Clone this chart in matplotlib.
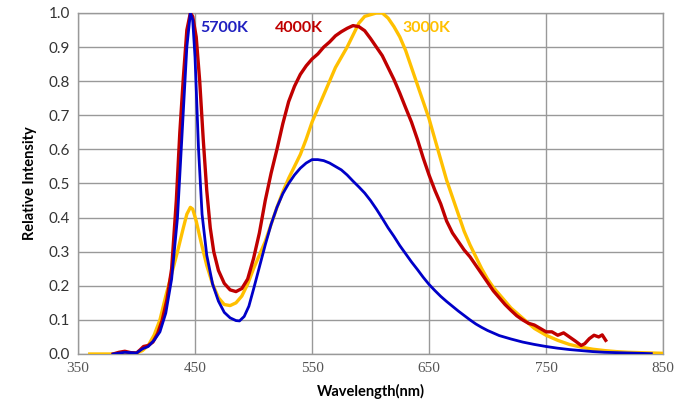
import matplotlib
matplotlib.use('Agg')
import matplotlib.pyplot as plt

# 5700K spectrum
wl_5700 = [380, 390, 400, 405, 410, 415, 420, 425, 430, 435, 439, 443, 446, 448, 450, 453,
           456, 460, 465, 470, 475, 480, 485, 488, 492, 496, 500, 505, 510, 515, 520, 525,
           530, 535, 540, 545, 550, 555, 560, 565, 570, 575, 580, 585, 590, 595, 600, 605,
           610, 615, 620, 625, 630, 635, 640, 645, 650, 655, 660, 665, 670, 675, 680, 685,
           690, 695, 700, 710, 720, 730, 740, 750, 760, 770, 780, 790, 800, 810, 820, 830, 840]
int_5700 = [0.0, 0.005, 0.003, 0.015, 0.022, 0.04, 0.065, 0.12, 0.22, 0.4, 0.65, 0.9, 1.0, 0.98,
            0.87, 0.6, 0.41, 0.29, 0.205, 0.155, 0.122, 0.106, 0.098, 0.097, 0.11, 0.14, 0.19,
            0.255, 0.32, 0.38, 0.43, 0.47, 0.5, 0.525, 0.545, 0.56, 0.57, 0.57, 0.567, 0.56,
            0.55, 0.54, 0.525, 0.507, 0.49, 0.472, 0.45, 0.425, 0.398, 0.37, 0.345, 0.318,
            0.294, 0.27, 0.248, 0.225, 0.204, 0.186, 0.169, 0.154, 0.14, 0.126, 0.113, 0.1,
            0.088, 0.078, 0.069, 0.054, 0.044, 0.035, 0.028, 0.022, 0.017, 0.013, 0.01, 0.007,
            0.005, 0.004, 0.003, 0.002, 0.001]

# 4000K spectrum
wl_4000 = [380, 385, 390, 395, 400, 403, 406, 410, 414, 418, 422, 426, 430, 434, 437, 440,
           443, 446, 448, 451, 454, 457, 460, 463, 466, 470, 475, 480, 485, 490, 495, 500,
           505, 510, 515, 520, 525, 530, 535, 540, 545, 550, 555, 560, 565, 570, 575, 580,
           585, 590, 595, 600, 605, 610, 615, 620, 625, 630, 635, 640, 645, 650, 655, 660,
           665, 670, 675, 680, 685, 690, 695, 700, 705, 710, 715, 720, 725, 730, 735, 740,
           745, 750, 755, 760, 765, 770, 775, 780, 783, 787, 791, 795, 798, 801]
int_4000 = [0.0, 0.005, 0.008, 0.004, 0.003, 0.012, 0.022, 0.025, 0.035, 0.06, 0.1, 0.16, 0.25,
            0.45, 0.65, 0.81, 0.95, 1.0, 0.99, 0.93, 0.8, 0.63, 0.48, 0.37, 0.3, 0.245, 0.207,
            0.188, 0.183, 0.192, 0.22, 0.28, 0.355, 0.45, 0.53, 0.6, 0.675, 0.74, 0.785, 0.82,
            0.845, 0.865, 0.88, 0.9, 0.915, 0.933, 0.945, 0.955, 0.963, 0.96, 0.948, 0.925, 0.9,
            0.875, 0.84, 0.805, 0.765, 0.722, 0.68, 0.63, 0.575, 0.525, 0.48, 0.44, 0.39,
            0.355, 0.33, 0.305, 0.285, 0.26, 0.235, 0.21, 0.185, 0.165, 0.145, 0.128, 0.112,
            0.1, 0.09, 0.085, 0.075, 0.065, 0.065, 0.055, 0.062, 0.05, 0.038, 0.025, 0.03,
            0.045, 0.055, 0.05, 0.056, 0.04]

# 3000K spectrum
wl_3000 = [360, 380, 400, 405, 410, 415, 420, 425, 430, 435, 440, 443, 446, 448, 451, 455,
           460, 465, 470, 475, 480, 485, 490, 495, 500, 505, 510, 515, 520, 525, 530, 535,
           540, 545, 550, 555, 560, 565, 570, 575, 580, 585, 590, 595, 600, 605, 610, 615,
           620, 625, 630, 635, 640, 645, 650, 655, 660, 665, 670, 675, 680, 685, 690, 695,
           700, 705, 710, 715, 720, 730, 740, 750, 760, 770, 780, 790, 800, 810, 820, 830,
           840, 850]
int_3000 = [0.0, 0.0, 0.003, 0.01, 0.025, 0.055, 0.1, 0.17, 0.235, 0.3, 0.37, 0.41, 0.43, 0.425,
            0.39, 0.33, 0.26, 0.205, 0.165, 0.145, 0.142, 0.15, 0.17, 0.205, 0.25, 0.29, 0.33,
            0.38, 0.43, 0.475, 0.515, 0.55, 0.585, 0.63, 0.68, 0.72, 0.76, 0.8, 0.84, 0.87,
            0.9, 0.935, 0.97, 0.99, 0.995, 1.0, 1.0, 0.985, 0.96, 0.93, 0.89, 0.84, 0.79, 0.74,
            0.69, 0.63, 0.57, 0.51, 0.46, 0.41, 0.36, 0.32, 0.285, 0.25, 0.22, 0.195, 0.175,
            0.155, 0.135, 0.105, 0.075, 0.055, 0.04, 0.028, 0.02, 0.014, 0.01, 0.007, 0.005,
            0.004, 0.003, 0.002]

x_ticks = [350, 450, 550, 650, 750, 850]
y_ticks = [0.0, 0.1, 0.2, 0.3, 0.4, 0.5, 0.6, 0.7, 0.8, 0.9, 1.0]

fig = plt.figure(figsize=(6.75, 4.11), dpi=100)
ax = fig.add_axes([0.1156, 0.1387, 0.8667, 0.8297])

ax.plot(wl_3000, int_3000, color='#FFC000', lw=2.4, zorder=3)
ax.plot(wl_4000, int_4000, color='#C00000', lw=2.4, zorder=4)
ax.plot(wl_5700, int_5700, color='#0000C8', lw=2.0, zorder=5)

ax.set_xlim(350, 850)
ax.set_ylim(0, 1.0)
ax.set_xticks(x_ticks)
ax.set_yticks(y_ticks)
ax.set_yticklabels(['%.1f' % v for v in y_ticks], family='Lato', fontsize=11, color='#333333')
ax.set_xticklabels([str(v) for v in x_ticks], family='Liberation Serif', fontsize=11,
                   color='#555555')
ax.tick_params(length=0, pad=6)
ax.grid(True, color='#999999', lw=1.0)
ax.set_axisbelow(True)
for s in ax.spines.values():
    s.set_color('#999999')
    s.set_linewidth(1.0)

ax.set_xlabel('Wavelength(nm)', family='Lato', fontweight='bold', fontsize=10.5, labelpad=6)
ax.set_ylabel('Relative Intensity', family='Lato', fontweight='bold', fontsize=10.5, labelpad=8)

ax.text(454.5, 0.945, '5700K', color='#2020C0', family='Lato', fontweight='bold', fontsize=11.5)
ax.text(518.5, 0.945, '4000K', color='#C00000', family='Lato', fontweight='bold', fontsize=11.5)
ax.text(627.5, 0.945, '3000K', color='#FFC000', family='Lato', fontweight='bold', fontsize=11.5)

fig.savefig('out.png', dpi=100)
